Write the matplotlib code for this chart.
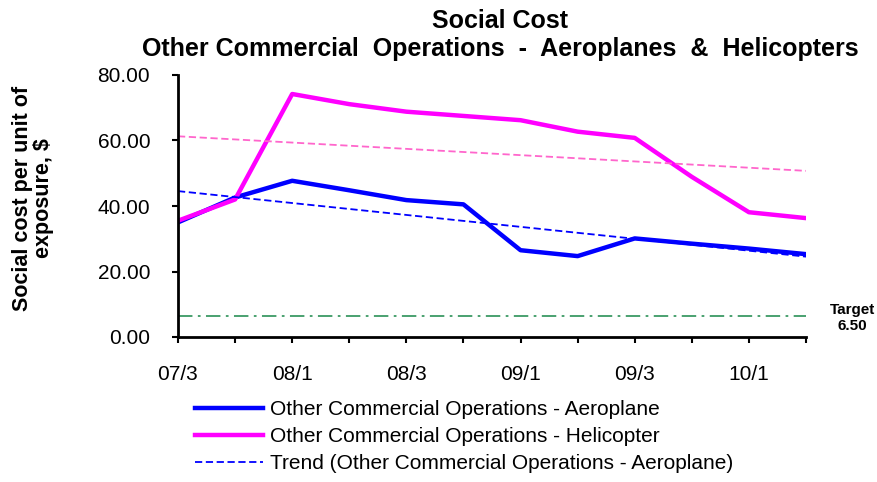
import numpy as np
import matplotlib
matplotlib.use('Agg')
import matplotlib.pyplot as plt
from matplotlib.ticker import FormatStrFormatter

plt.rcParams['font.family'] = ['Liberation Sans', 'DejaVu Sans']

# quarters shown on the x axis
quarters = ['07/3', '07/4', '08/1', '08/2', '08/3', '08/4',
            '09/1', '09/2', '09/3', '09/4', '10/1', '10/2']

# social cost per unit of exposure ($)
aeroplane = [35.0, 42.6, 47.7, 44.8, 41.8, 40.5, 26.5, 24.7, 30.1, 28.5, 27.0, 25.3]
helicopter = [35.5, 42.0, 74.2, 71.1, 68.8, 67.5, 66.2, 62.7, 60.8, 48.9, 38.1, 36.3]
target = 6.50

x = np.arange(len(quarters))

# linear trends
trend_aero = np.polyval(np.polyfit(x, aeroplane, 1), x)
trend_heli = np.polyval(np.polyfit(x, helicopter, 1), x)

fig = plt.figure(figsize=(8.77, 4.82), dpi=100)
ax = fig.add_axes([178/877, 1 - 337/482, (806 - 178)/877, (337 - 75)/482])

ax.plot(x, aeroplane, color='#0000ff', lw=3.2, solid_joinstyle='round',
        label='Other Commercial Operations - Aeroplane')
ax.plot(x, helicopter, color='#ff00ff', lw=3.2, solid_joinstyle='round',
        label='Other Commercial Operations - Helicopter')
ax.plot(x, trend_aero, color='#0000ff', lw=1.3, linestyle=(0, (4, 2)),
        label='Trend (Other Commercial Operations - Aeroplane)')
ax.plot(x, trend_heli, color='#ff66cc', lw=1.3, linestyle=(0, (4, 2)),
        label='_nolegend_')
ax.axhline(target, color='#3c9a64', lw=1.3, linestyle=(0, (8, 3, 1.5, 3)))

ax.set_xlim(0, len(quarters) - 1)
ax.set_ylim(0, 80)
ax.set_yticks([0, 20, 40, 60, 80])
ax.yaxis.set_major_formatter(FormatStrFormatter('%.2f'))
ax.set_xticks(x)
ax.set_xticklabels([q if i % 2 == 0 else '' for i, q in enumerate(quarters)])

for s in ['top', 'right']:
    ax.spines[s].set_visible(False)
for s in ['left', 'bottom']:
    ax.spines[s].set_linewidth(2)
ax.tick_params(axis='both', direction='out', length=4, width=1.5, labelsize=15, pad=16)

# titles and labels
fig.text(500/877, 1 - 28/482, 'Social Cost', ha='center', va='baseline',
         fontsize=18, fontweight='bold')
fig.text(500/877, 1 - 56/482, 'Other Commercial  Operations  -  Aeroplanes  &  Helicopters',
         ha='center', va='baseline', fontsize=18, fontweight='bold')
fig.text(33/877, 1 - 198/482, 'Social cost per unit of\nexposure, $', rotation=90,
         ha='center', va='center', multialignment='center',
         fontsize=15.5, fontweight='bold', linespacing=1.05)
fig.text(852/877, 1 - 318/482, 'Target\n%.2f' % target, ha='center', va='center',
         fontsize=11, fontweight='bold', linespacing=1.1)

fig.legend(loc='upper left', bbox_to_anchor=(195/877, 1 - 400/482), frameon=False,
           fontsize=15, handlelength=3.25, handletextpad=0.35, labelspacing=0.39,
           borderaxespad=0, borderpad=0)

plt.savefig('out.png', dpi=100)
